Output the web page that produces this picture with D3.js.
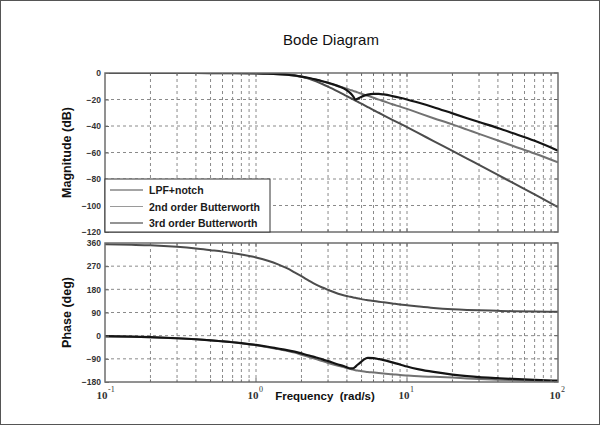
<!DOCTYPE html>
<html>
<head>
<meta charset="utf-8">
<script src="https://cdn.jsdelivr.net/npm/d3@7"></script>
<style>
  body { margin: 0; background: #fff; }
  svg { display: block; }
</style>
</head>
<body>
<svg id="chart" width="607" height="441"></svg>
<script>
// Frequency samples (rad/s)
const freq = [0.1, 0.15, 0.2, 0.3, 0.4, 0.5, 0.6, 0.7, 0.8,
  1, 1.2, 1.4, 1.6, 1.8,
  2, 2.25, 2.5, 2.75, 3,
  3.5, 3.8, 4, 4.2, 4.4, 4.55, 4.7, 4.9,
  5.2, 5.5, 6, 6.5, 7, 8, 9,
  10, 12, 15, 20, 25, 30, 40, 50, 70, 100];

// Magnitude (dB)
const magNotch = [0, 0, 0, 0, -0.01, -0.02, -0.03, -0.06, -0.1,
  -0.23, -0.45, -0.8, -1.3, -1.9,
  -2.7, -3.8, -5.0, -6.2, -7.4,
  -9.9, -11.6, -13.1, -15.0, -17.6, -20.0, -19.5, -18.4,
  -17.1, -16.3, -15.8, -15.8, -16.2, -17.4, -18.7,
  -20.0, -22.5, -25.8, -30.5, -34.1, -37.0, -41.5, -45.3, -51.2, -58.6];
const mag2nd = [0, 0, 0, 0, -0.01, -0.02, -0.03, -0.06, -0.1,
  -0.24, -0.48, -0.86, -1.37, -2.0,
  -2.8, -3.9, -5.1, -6.3, -7.5,
  -9.8, -11.1, -11.9, -12.7, -13.5, -14.0, -14.6, -15.3,
  -16.3, -17.2, -18.7, -20.1, -21.3, -23.6, -25.4,
  -27.1, -30.3, -34.1, -38.8, -42.7, -45.9, -50.9, -54.9, -60.8, -67.5];
const mag3rd = [0, 0, 0, 0, 0, 0, 0, -0.01, -0.02,
  -0.06, -0.17, -0.42, -0.88, -1.64,
  -2.7, -4.4, -6.3, -8.3, -10.3,
  -14.1, -16.2, -17.5, -18.75, -19.95, -20.8, -21.65, -22.7,
  -24.2, -25.7, -28.0, -30.0, -31.9, -35.3, -38.2,
  -40.9, -45.6, -51.4, -58.8, -64.6, -69.4, -76.9, -82.8, -91.6, -101.3];

// Phase (deg)
const phaseNotch = [-2, -4, -6, -10, -14, -18, -22, -25.5, -29,
  -36, -43, -50, -56, -62,
  -69, -77, -85, -92, -99,
  -112, -118, -123, -127, -127, -121, -113, -105,
  -92, -86, -87, -91, -95, -104, -112,
  -120, -131, -141, -151, -157, -161, -165, -168, -172, -175];
const phase2nd = [-3, -4.5, -6.5, -10, -14, -18, -22, -25.5, -29.5,
  -37, -45, -52, -59, -66,
  -74, -83, -91, -99, -106,
  -117, -122, -126, -129, -132, -134, -135.5, -137,
  -139, -141, -143, -145, -147, -150, -153,
  -155, -158, -160, -163, -166, -168, -171, -173, -175.5, -177.5];
const phase3rd = [355, 353, 351, 345, 338.5, 332, 326.5, 320.5, 315,
  304, 291, 277, 262, 246,
  231, 213, 198, 187, 178,
  163, 157, 154, 151, 148.5, 147, 145.5, 143,
  140, 138, 135, 132, 129.5, 125, 121,
  118, 113, 107.5, 102.5, 100, 98.5, 96.5, 95, 93.5, 92.5];

// Axis ticks and legend text
const magTicks = [0, -20, -40, -60, -80, -100, -120];
const phaseTicks = [360, 270, 180, 90, 0, -90, -180];
const decadeTicks = [0.1, 1, 10, 100];
const decadeExponents = ["-1", "0", "1", "2"];
const seriesNames = ["LPF+notch", "2nd order Butterworth", "3rd order Butterworth"];

const svg = d3.select("#chart");
const defs = svg.append("defs");

// figure border
svg.append("rect")
  .attr("x", 0.5).attr("y", 0.5).attr("width", 599).attr("height", 424)
  .attr("fill", "#fff").attr("stroke", "#555").attr("stroke-width", 1);

const x = d3.scaleLog().domain([0.1, 100]).range([105, 558]);
const yMag = d3.scaleLinear().domain([-120, 0]).range([232, 73]);
const yPh = d3.scaleLinear().domain([-180, 360]).range([382, 243]);

const minorX = x.ticks().filter(v => v > 0.1 && v < 100);
const isDecade = v => Math.abs(Math.log10(v) - Math.round(Math.log10(v))) < 1e-9;

function panel(y, ticks, id) {
  const g = svg.append("g");
  const [y0, y1] = y.range();
  const [xa, xb] = x.range();
  defs.append("clipPath").attr("id", id)
    .append("rect").attr("x", xa).attr("y", y1).attr("width", xb - xa).attr("height", y0 - y1);
  // vertical dashed grid
  g.selectAll(".vg").data(minorX).join("line")
    .attr("x1", d => x(d)).attr("x2", d => x(d))
    .attr("y1", y1).attr("y2", y0)
    .attr("stroke", "#8a8a8a").attr("stroke-width", 1)
    .attr("stroke-dasharray", "3,3");
  // horizontal dashed grid
  const inner = ticks.filter(t => t !== y.domain()[0] && t !== y.domain()[1]);
  g.selectAll(".hg").data(inner).join("line")
    .attr("x1", xa).attr("x2", xb)
    .attr("y1", d => y(d)).attr("y2", d => y(d))
    .attr("stroke", "#8a8a8a").attr("stroke-width", 1)
    .attr("stroke-dasharray", "3,3");
  const plot = g.append("g").attr("clip-path", `url(#${id})`);
  const overlay = g.append("g");
  // left axis with labels, ticks pointing inward
  const ax = overlay.append("g").attr("transform", `translate(${xa},0)`)
    .call(d3.axisLeft(y).tickValues(ticks).tickSize(-4).tickPadding(4));
  ax.select(".domain").remove();
  ax.selectAll(".tick line").attr("stroke", "#666");
  ax.selectAll(".tick text")
    .attr("x", -4)
    .style("font-family", "'Liberation Sans', Arial, sans-serif")
    .style("font-size", "8.5px").style("font-weight", "bold")
    .attr("fill", "#333");
  // right ticks
  overlay.selectAll(".rt").data(ticks).join("line")
    .attr("x1", xb).attr("x2", xb - 4)
    .attr("y1", d => y(d)).attr("y2", d => y(d))
    .attr("stroke", "#666");
  // top and bottom ticks
  [[y0, -1], [y1, 1]].forEach(([yy, dir], i) => {
    overlay.selectAll(".xt" + i).data(minorX).join("line")
      .attr("x1", d => x(d)).attr("x2", d => x(d))
      .attr("y1", yy).attr("y2", d => yy + dir * (isDecade(d) ? 4 : 2.5))
      .attr("stroke", "#666");
  });
  return { plot, overlay, frame: () => overlay.append("rect")
    .attr("x", xa).attr("y", y1)
    .attr("width", xb - xa).attr("height", y0 - y1)
    .attr("fill", "none").attr("stroke", "#6e6e6e").attr("stroke-width", 1.5) };
}

const pMag = panel(yMag, magTicks, "clipMag");
const pPh = panel(yPh, phaseTicks, "clipPh");

const series = [
  { mag: mag3rd, ph: phase3rd, color: "#4c4c4c", w: 2 },
  { mag: mag2nd, ph: phase2nd, color: "#727272", w: 2 },
  { mag: magNotch, ph: phaseNotch, color: "#141414", w: 2.2 }
];

const lineMag = d3.line().x((d, i) => x(freq[i])).y(d => yMag(d)).curve(d3.curveMonotoneX);
const linePh = d3.line().x((d, i) => x(freq[i])).y(d => yPh(d)).curve(d3.curveMonotoneX);

series.forEach(s => {
  pMag.plot.append("path").attr("d", lineMag(s.mag))
    .attr("fill", "none").attr("stroke", s.color).attr("stroke-width", s.w)
    .attr("stroke-linejoin", "round");
  pPh.plot.append("path").attr("d", linePh(s.ph))
    .attr("fill", "none").attr("stroke", s.color).attr("stroke-width", s.w)
    .attr("stroke-linejoin", "round");
});

pMag.frame();
pPh.frame();

// legend
const legendColors = ["#4a4a4a", "#9a9a9a", "#2a2a2a"];
const lg = svg.append("g");
lg.append("rect")
  .attr("x", 105).attr("y", 179).attr("width", 165).attr("height", 53)
  .attr("fill", "#fff").attr("stroke", "#333").attr("stroke-width", 1);
seriesNames.forEach((name, i) => {
  const yy = 190 + i * 16.5;
  lg.append("line").attr("x1", 110).attr("x2", 143).attr("y1", yy).attr("y2", yy)
    .attr("stroke", legendColors[i]).attr("stroke-width", 1.2);
  lg.append("text").attr("x", 149).attr("y", yy + 4)
    .text(name)
    .style("font-family", "'Liberation Sans', Arial, sans-serif")
    .style("font-size", "10.5px").style("font-weight", "bold")
    .attr("fill", "#1a1a1a");
});

// x tick labels: 10 with exponent
decadeTicks.forEach((v, i) => {
  const px = x(v) + 2.5;
  svg.append("text").attr("x", px).attr("y", 399).attr("text-anchor", "end")
    .text("10")
    .style("font-family", "'Liberation Serif', 'Times New Roman', serif")
    .style("font-size", "11px").style("font-weight", "bold").attr("fill", "#333");
  svg.append("text").attr("x", px + 0.5).attr("y", 392)
    .text(decadeExponents[i])
    .style("font-family", "'Liberation Serif', 'Times New Roman', serif")
    .style("font-size", "8px").attr("fill", "#333");
});

// titles
svg.append("text").attr("x", 331).attr("y", 45).attr("text-anchor", "middle")
  .text("Bode Diagram")
  .style("font-family", "'Liberation Sans', Arial, sans-serif")
  .style("font-size", "15px").attr("fill", "#111");

svg.append("text").attr("x", 325).attr("y", 400).attr("text-anchor", "middle")
  .text("Frequency  (rad/s)")
  .style("white-space", "pre")
  .style("font-family", "'Liberation Sans', Arial, sans-serif")
  .style("font-size", "11.5px").style("font-weight", "bold").attr("fill", "#111");

svg.append("text")
  .attr("transform", `translate(71,${(73 + 232) / 2}) rotate(-90)`)
  .attr("text-anchor", "middle")
  .text("Magnitude (dB)")
  .style("font-family", "'Liberation Sans', Arial, sans-serif")
  .style("font-size", "12.5px").style("font-weight", "bold").attr("fill", "#111");

svg.append("text")
  .attr("transform", `translate(71,${(243 + 382) / 2}) rotate(-90)`)
  .attr("text-anchor", "middle")
  .text("Phase (deg)")
  .style("font-family", "'Liberation Sans', Arial, sans-serif")
  .style("font-size", "12.5px").style("font-weight", "bold").attr("fill", "#111");
</script>
</body>
</html>
